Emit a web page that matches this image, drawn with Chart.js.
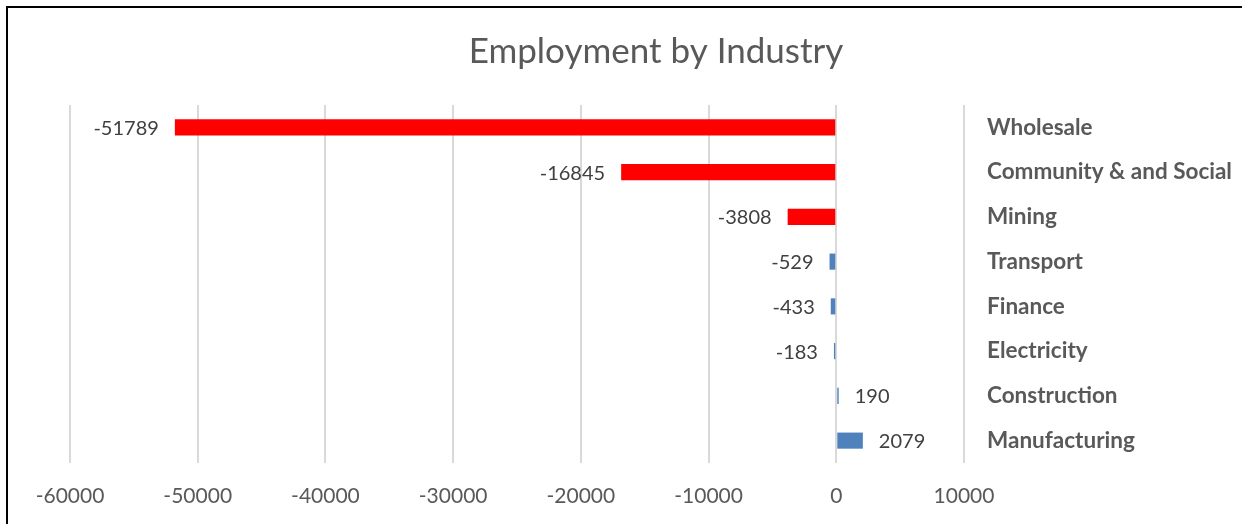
<!DOCTYPE html>
<html>
<head>
<meta charset="utf-8">
<script src="https://cdn.jsdelivr.net/npm/chart.js@4/dist/chart.umd.min.js"></script>
<style>
  html, body { margin: 0; padding: 0; background: #fff; }
  #wrap { position: relative; width: 1242px; height: 524px; }
  #frame { position: absolute; left: 6px; top: 6px; width: 1236px; height: 518px;
           border-left: 2px solid #000; border-top: 2px solid #000; box-sizing: border-box; pointer-events: none; }
  canvas { display: block; }
</style>
</head>
<body>
<div id="wrap">
  <canvas id="c" width="1242" height="524"></canvas>
  <div id="frame"></div>
</div>
<script>
const categories = ["Wholesale", "Community & and Social", "Mining", "Transport", "Finance", "Electricity", "Construction", "Manufacturing"];
const changeValues = [-51789, -16845, -3808, -529, -433, -183, 190, 2079];
const barColors = ["#FF0000", "#FF0000", "#FF0000", "#4F81BD", "#4F81BD", "#4F81BD", "#4F81BD", "#4F81BD"];
const xTicks = [-60000, -50000, -40000, -30000, -20000, -10000, 0, 10000];

const FONT = "Lato, 'Open Sans', sans-serif";

const valueLabels = {
  id: 'valueLabels',
  afterDatasetsDraw(chart) {
    const ctx = chart.ctx;
    const meta = chart.getDatasetMeta(0);
    ctx.save();
    ctx.font = "20px " + FONT;
    ctx.fillStyle = "#404040";
    ctx.textBaseline = "middle";
    meta.data.forEach((bar, i) => {
      const v = changeValues[i];
      const gap = 16;
      if (v < 0) {
        ctx.textAlign = "right";
        ctx.fillText(String(v), Math.min(bar.x, bar.base) - gap, bar.y + 1);
      } else {
        ctx.textAlign = "left";
        ctx.fillText(String(v), Math.max(bar.x, bar.base) + gap, bar.y + 1);
      }
    });
    ctx.restore();
  }
};

new Chart(document.getElementById('c'), {
  type: 'bar',
  data: {
    labels: categories,
    datasets: [{
      data: changeValues,
      backgroundColor: barColors,
      borderWidth: 0,
      barPercentage: 0.36,
      categoryPercentage: 1
    }]
  },
  options: {
    indexAxis: 'y',
    responsive: false,
    animation: false,
    layout: { padding: { left: 70, right: 0, top: 31, bottom: 17 } },
    plugins: {
      legend: { display: false },
      tooltip: { enabled: false },
      title: {
        display: true,
        text: 'Employment by Industry',
        color: '#595959',
        font: { family: FONT, size: 35, weight: 'normal' },
        padding: { top: 0, bottom: 32 }
      }
    },
    scales: {
      x: {
        min: xTicks[0],
        max: xTicks[xTicks.length - 1],
        afterBuildTicks(scale) { scale.ticks = xTicks.map(v => ({ value: v })); },
        afterFit(scale) { scale.height = 44; },
        grid: { color: '#D9D9D9', lineWidth: 2, drawTicks: false },
        border: { display: false },
        ticks: {
          color: '#595959',
          font: { family: FONT, size: 21 },
          padding: 21,
          maxRotation: 0,
          callback: (v) => String(v)
        }
      },
      y: {
        position: 'right',
        grid: { display: false, drawTicks: true, tickLength: 23 },
        border: { display: false },
        afterFit(scale) { scale.width = 278; },
        ticks: {
          color: '#595959',
          crossAlign: 'near',
          padding: 0,
          font: { family: FONT, size: 22.5, weight: 'bold' }
        }
      }
    }
  },
  plugins: [valueLabels]
});
</script>
</body>
</html>
